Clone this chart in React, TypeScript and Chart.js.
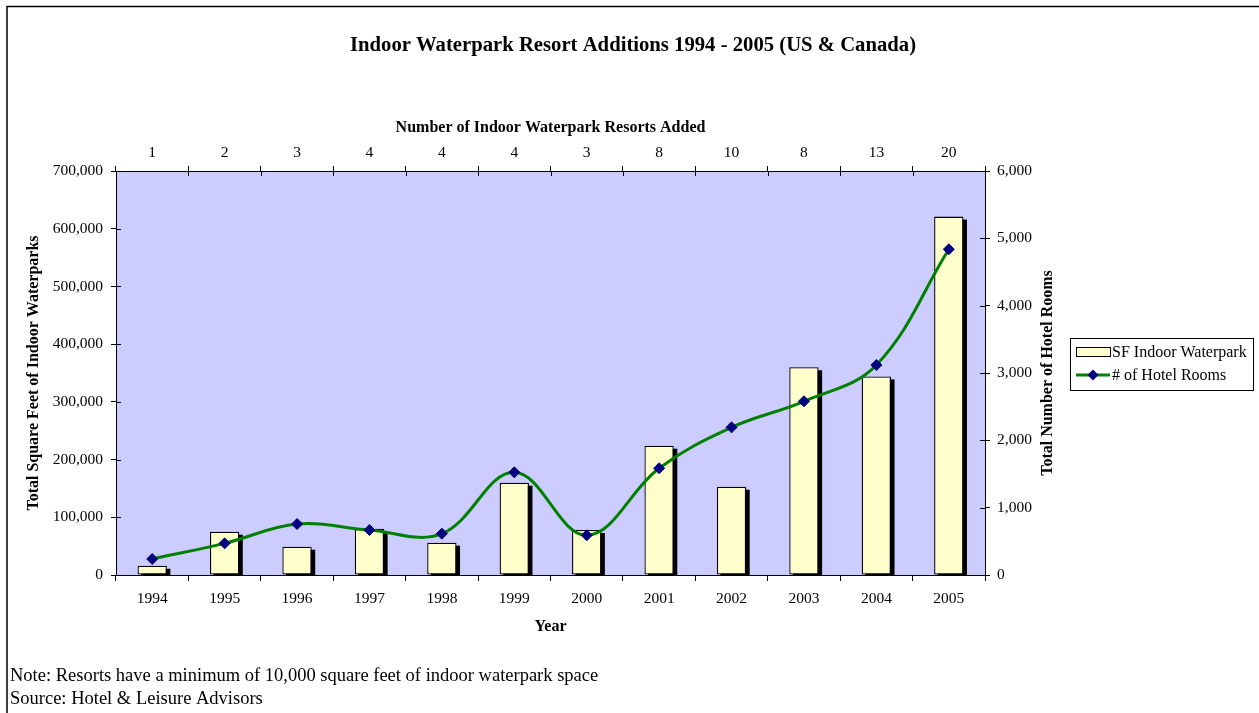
import React, { useEffect, useRef } from "react";
import { Chart, registerables } from "chart.js";

Chart.register(...registerables);

const chartTitle = "Indoor Waterpark Resort Additions 1994 - 2005 (US & Canada)";
const topAxisTitle = "Number of Indoor Waterpark Resorts Added";
const bottomAxisTitle = "Year";
const leftAxisTitle = "Total Square Feet of Indoor Waterparks";
const rightAxisTitle = "Total Number of Hotel Rooms";

const years = ["1994", "1995", "1996", "1997", "1998", "1999", "2000", "2001", "2002", "2003", "2004", "2005"];
const resortsAdded = ["1", "2", "3", "4", "4", "4", "3", "8", "10", "8", "13", "20"];
const sqFeetLabel = "SF Indoor Waterpark";
const sqFeet = [16000, 75000, 49000, 80000, 56000, 160000, 78000, 224000, 153000, 360000, 344000, 621000];
const roomsLabel = "# of Hotel Rooms";
const hotelRooms = [238, 470, 757, 668, 614, 1525, 589, 1585, 2193, 2580, 3119, 4837];
const noteLines = [
  "Note: Resorts have a minimum of 10,000 square feet of indoor waterpark space",
  "Source: Hotel & Leisure Advisors",
];

const SERIF = "'Liberation Serif', 'Times New Roman', serif";
const BAR_FILL = "#FFFFCC";
const LINE_COLOR = "#008000";
const POINT_COLOR = "#000080";
const PLOT_BG = "#CCCCFF";

const fmt = (v: any) => Number(v).toLocaleString("en-US");

const decorPlugin = {
  id: "decor",
  beforeDraw(chart: any) {
    const { ctx, chartArea: a } = chart;
    ctx.save();
    ctx.fillStyle = "#ffffff";
    ctx.fillRect(0, 0, chart.width, chart.height);
    ctx.fillStyle = PLOT_BG;
    ctx.fillRect(a.left, a.top, a.right - a.left, a.bottom - a.top);
    ctx.strokeStyle = "#000";
    ctx.lineWidth = 1.5;
    ctx.beginPath();
    ctx.moveTo(7, chart.height);
    ctx.lineTo(7, 6.5);
    ctx.lineTo(chart.width, 6.5);
    ctx.stroke();
    ctx.restore();
  },
  beforeDatasetsDraw(chart: any) {
    const { ctx, chartArea: a, scales } = chart;
    ctx.save();
    ctx.strokeStyle = "#000";
    ctx.lineWidth = 1;
    ctx.beginPath();
    const x2 = scales.x2;
    for (let i = 0; i <= resortsAdded.length; i++) {
      const px = Math.round(x2.getPixelForValue(i - 0.5)) + 0.5;
      ctx.moveTo(px, a.top);
      ctx.lineTo(px, a.top + 5);
    }
    scales.y.ticks.forEach((t: any) => {
      const py = Math.round(scales.y.getPixelForValue(t.value)) + 0.5;
      ctx.moveTo(a.left, py);
      ctx.lineTo(a.left + 5, py);
    });
    scales.y2.ticks.forEach((t: any) => {
      const py = Math.round(scales.y2.getPixelForValue(t.value)) + 0.5;
      ctx.moveTo(a.right - 5, py);
      ctx.lineTo(a.right, py);
    });
    ctx.stroke();
    ctx.restore();
  },
  beforeDatasetDraw(chart: any, args: any) {
    if (args.index !== 0) return;
    const { ctx, chartArea: a } = chart;
    const meta = chart.getDatasetMeta(0);
    ctx.save();
    ctx.beginPath();
    ctx.rect(a.left, a.top, a.right - a.left, a.bottom - a.top);
    ctx.clip();
    ctx.fillStyle = "#000";
    meta.data.forEach((el: any) => {
      const { x, y, base, width } = el.getProps(["x", "y", "base", "width"], true);
      ctx.fillRect(x - width / 2 + 3.5, y + 3, width, base - y);
    });
    ctx.restore();
  },
  afterDraw(chart: any) {
    const { ctx, chartArea: a } = chart;
    ctx.save();
    // right axis title (reads bottom to top)
    ctx.fillStyle = "#000";
    ctx.font = `bold 16px ${SERIF}`;
    ctx.textAlign = "center";
    ctx.textBaseline = "middle";
    ctx.translate(1048, (a.top + a.bottom) / 2);
    ctx.rotate(-Math.PI / 2);
    ctx.fillText(rightAxisTitle, 0, 0);
    ctx.setTransform(1, 0, 0, 1, 0, 0);

    // legend
    const ds = chart.data.datasets;
    const lx = 1070.5, ly = 338.5, lw = 183, lh = 52;
    ctx.fillStyle = "#fff";
    ctx.fillRect(lx, ly, lw, lh);
    ctx.strokeStyle = "#000";
    ctx.lineWidth = 1;
    ctx.strokeRect(lx, ly, lw, lh);
    // bar swatch
    ctx.fillStyle = ds[0].backgroundColor;
    ctx.fillRect(1076.5, 347.5, 34, 9);
    ctx.strokeStyle = "#000";
    ctx.strokeRect(1076.5, 347.5, 34, 9);
    // line swatch
    ctx.strokeStyle = ds[1].borderColor;
    ctx.lineWidth = 3;
    ctx.beginPath();
    ctx.moveTo(1076, 375);
    ctx.lineTo(1110, 375);
    ctx.stroke();
    ctx.fillStyle = ds[1].pointBackgroundColor;
    ctx.beginPath();
    ctx.moveTo(1093, 369.5);
    ctx.lineTo(1098.5, 375);
    ctx.lineTo(1093, 380.5);
    ctx.lineTo(1087.5, 375);
    ctx.closePath();
    ctx.fill();
    ctx.fillStyle = "#000";
    ctx.font = `16px ${SERIF}`;
    ctx.textAlign = "left";
    ctx.textBaseline = "middle";
    ctx.fillText(ds[0].label, 1112, 352.5);
    ctx.fillText(ds[1].label, 1112, 375.5);

    // notes
    ctx.font = `18.5px ${SERIF}`;
    ctx.textBaseline = "alphabetic";
    ctx.fillText(noteLines[0], 10, 681);
    ctx.fillText(noteLines[1], 10, 703.5);
    ctx.restore();
  },
};

export default function App() {
  const ref = useRef<HTMLCanvasElement | null>(null);
  useEffect(() => {
    if (!ref.current) return;
    const tickFont = { family: SERIF, size: 15.5 };
    const axisTitleFont = { family: SERIF, size: 16, weight: "bold" as const, lineHeight: 1.2 };
    const chart = new Chart(ref.current, {
      type: "bar",
      data: {
        labels: years,
        datasets: [
          {
            type: "bar",
            label: sqFeetLabel,
            data: sqFeet,
            backgroundColor: BAR_FILL,
            borderColor: "#000",
            borderWidth: 1.3,
            borderSkipped: false,
            xAxisID: "x",
            yAxisID: "y",
            barPercentage: 0.405,
            categoryPercentage: 1,
            order: 2,
          } as any,
          {
            type: "line",
            label: roomsLabel,
            data: hotelRooms,
            borderColor: LINE_COLOR,
            borderWidth: 3,
            tension: 0.38,
            pointStyle: "rectRot",
            pointRadius: 5.5,
            pointBackgroundColor: POINT_COLOR,
            pointBorderColor: POINT_COLOR,
            pointBorderWidth: 1,
            xAxisID: "x",
            yAxisID: "y2",
            order: 1,
          } as any,
        ],
      },
      options: {
        responsive: false,
        animation: false,
        events: [],
        layout: { padding: { left: 7, right: 0, top: 0, bottom: 72 } },
        plugins: {
          legend: { display: false },
          tooltip: { enabled: false },
          title: {
            display: true,
            text: chartTitle,
            color: "#000",
            font: { family: SERIF, size: 20.7, weight: "bold", lineHeight: 1.2 },
            padding: { top: 33, bottom: 12.16 },
          },
        },
        scales: {
          x: {
            type: "category",
            position: "bottom",
            offset: true,
            grid: { display: true, drawOnChartArea: false, drawTicks: true, tickLength: 6, color: "#000", offset: true },
            border: { display: true, color: "#000", width: 1 },
            ticks: { color: "#000", font: tickFont, padding: 8.5, autoSkip: false, maxRotation: 0 },
            title: { display: true, text: bottomAxisTitle, color: "#000", font: axisTitleFont, padding: { top: 0, bottom: 4.4 } },
            afterFit: (s: any) => { s.height = 66; },
          },
          x2: {
            type: "category",
            position: "top",
            labels: resortsAdded,
            offset: true,
            display: true,
            grid: { display: true, drawOnChartArea: false, drawTicks: true, tickLength: 5, color: "#000", offset: true },
            border: { display: true, color: "#000", width: 1 },
            ticks: { color: "#000", font: tickFont, padding: 4, autoSkip: false, maxRotation: 0 },
            title: { display: true, text: topAxisTitle, color: "#000", font: axisTitleFont, padding: { top: 48.4, bottom: 0 } },
            afterFit: (s: any) => { s.height = 101; },
          },
          y: {
            type: "linear",
            position: "left",
            min: 0,
            max: 700000,
            grid: { display: true, drawOnChartArea: false, drawTicks: true, tickLength: 5, color: "#000" },
            border: { display: true, color: "#000", width: 1 },
            ticks: { color: "#000", font: tickFont, padding: 8, stepSize: 100000, callback: fmt },
            title: { display: true, text: leftAxisTitle, color: "#000", font: axisTitleFont, padding: { top: 16.9, bottom: 0 } },
            afterFit: (s: any) => { s.width = 109; },
          },
          y2: {
            type: "linear",
            position: "right",
            min: 0,
            max: 6000,
            grid: { display: true, drawOnChartArea: false, drawTicks: true, tickLength: 5, color: "#000" },
            border: { display: true, color: "#000", width: 1 },
            ticks: { color: "#000", font: tickFont, padding: 7, stepSize: 1000, callback: fmt },
            title: { display: false, text: rightAxisTitle },
            afterFit: (s: any) => { s.width = 274; },
          },
        },
      } as any,
      plugins: [decorPlugin],
    });
    return () => chart.destroy();
  }, []);
  return (
    <div style={{ position: "absolute", left: 0, top: 0, width: 1259, height: 713 }}>
      <canvas ref={ref} width={1259} height={713} style={{ display: "block" }} />
    </div>
  );
}
